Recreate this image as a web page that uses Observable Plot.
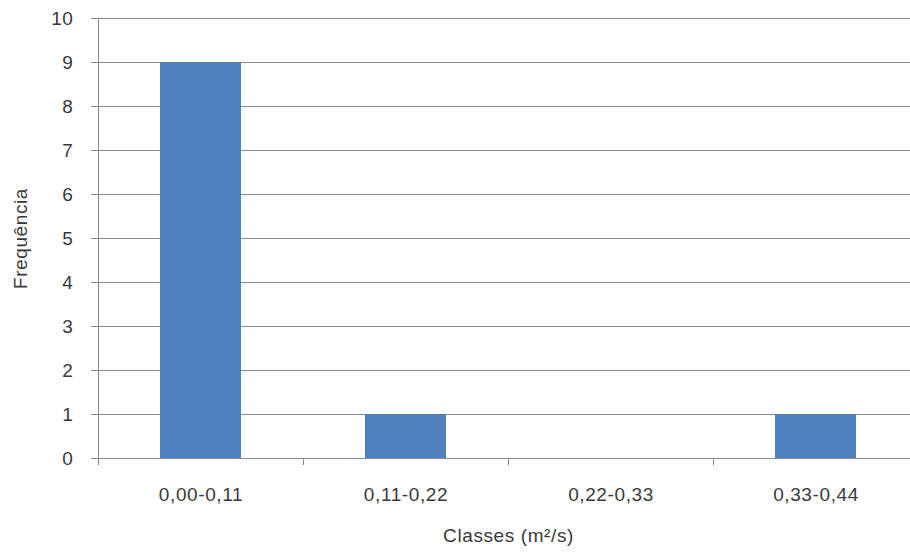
<!DOCTYPE html>
<html>
<head>
<meta charset="utf-8">
<script src="https://cdn.jsdelivr.net/npm/d3@7"></script>
<script src="https://cdn.jsdelivr.net/npm/@observablehq/plot@0.6"></script>
<style>
  html, body { margin: 0; padding: 0; background: #fff; overflow: hidden; }
  svg text { letter-spacing: 0.6px; }
</style>
</head>
<body>
<div id="chart"></div>
<script>
const categories = ["0,00-0,11", "0,11-0,22", "0,22-0,33", "0,33-0,44"];
const frequencies = [9, 1, 0, 1];
const yTicks = [0, 1, 2, 3, 4, 5, 6, 7, 8, 9, 10];
const xTitle = "Classes (m²/s)";
const yTitle = "Frequência";

const data = categories.map((c, i) => ({classe: c, freq: frequencies[i]}));

const W = 910, H = 553;
const plotLeft = 98, plotTop = 18, plotBottom = 458, plotXEnd = 918;
const step = (plotXEnd - plotLeft) / categories.length;
const fs = 19;

const chart = Plot.plot({
  width: W,
  height: H,
  marginLeft: plotLeft,
  marginTop: plotTop,
  marginBottom: H - plotBottom,
  marginRight: 0,
  style: {fontFamily: "'Liberation Sans', Arial, sans-serif", fontSize: fs + "px", color: "#3a3a3a", background: "#fff"},
  x: {domain: categories, range: [plotLeft, plotXEnd], paddingInner: 0.605, paddingOuter: 0.3025, axis: null},
  y: {domain: [0, 10], range: [plotBottom, plotTop], axis: null},
  marks: [
    Plot.gridY(yTicks, {stroke: "#8c8c8c", strokeOpacity: 1, strokeWidth: 1}),
    Plot.barY(data, {x: "classe", y: "freq", fill: "#4F81BD"}),
    Plot.frame({anchor: "left", stroke: "#8c8c8c"}),
    Plot.ruleY([0], {stroke: "#8c8c8c"}),
    Plot.axisY(yTicks, {tickSize: 7, tickPadding: 18, stroke: "#8c8c8c", fill: "#3a3a3a", fontSize: fs, label: null}),
    Plot.axisX({tickSize: 7, tickFormat: () => "", dx: -step / 2, stroke: "#8c8c8c", label: null}),
    Plot.axisX({tickSize: 0, tickPadding: 29, fill: "#3a3a3a", fontSize: fs, label: null}),
    Plot.text([yTitle], {frameAnchor: "left", textAnchor: "middle", rotate: -90, dx: -78, fill: "#3a3a3a", fontSize: fs}),
    Plot.text([xTitle], {frameAnchor: "bottom", dx: 4, dy: 83, fill: "#3a3a3a", fontSize: fs})
  ]
});
document.getElementById("chart").appendChild(chart);
</script>
</body>
</html>
